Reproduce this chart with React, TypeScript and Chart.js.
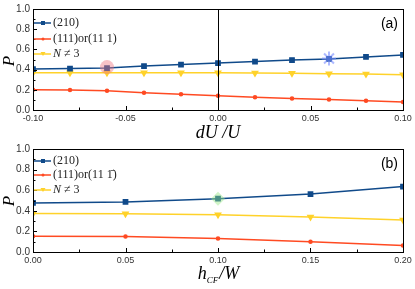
import React, { useEffect, useRef } from "react";
import { Chart, registerables } from "chart.js";
Chart.register(...registerables);

const dU = [-0.1, -0.08, -0.06, -0.04, -0.02, 0, 0.02, 0.04, 0.06, 0.08, 0.1];
const topP210 = [0.405, 0.41, 0.415, 0.435, 0.45, 0.465, 0.48, 0.495, 0.505, 0.525, 0.545];
const topP111 = [0.2, 0.198, 0.19, 0.172, 0.155, 0.14, 0.127, 0.115, 0.105, 0.092, 0.08];
const topPN = [0.368, 0.368, 0.368, 0.368, 0.368, 0.368, 0.366, 0.363, 0.358, 0.356, 0.35];

const hCF = [0, 0.05, 0.1, 0.15, 0.2];
const botP210 = [0.476, 0.486, 0.518, 0.562, 0.635];
const botP111 = [0.153, 0.15, 0.13, 0.1, 0.062];
const botPN = [0.374, 0.371, 0.362, 0.34, 0.311];

const topHighlights = [
  { x: -0.06, y: 0.425, style: "circle", color: "rgba(240,120,130,0.45)" },
  { x: 0.06, y: 0.51, style: "star", color: "rgba(120,140,255,0.6)" },
];
const botHighlights = [{ x: 0.1, y: 0.518, style: "rectRot", color: "rgba(150,230,130,0.45)" }];

const BLUE = "#104a8a";
const RED = "#ff4a22";
const YELLOW = "#ffd22a";

const zip = (xs: number[], ys: number[]) => xs.map((x, i) => ({ x, y: ys[i] }));

function seriesDatasets(xs: number[], a: number[], b: number[], c: number[], hl: any[]) {
  const ds: any[] = [
    ...hl.map((h) => ({
      data: [{ x: h.x, y: h.y }],
      showLine: false,
      pointStyle: h.style,
      pointRadius: h.style === "star" ? 7 : 7,
      pointBackgroundColor: h.color,
      pointBorderColor: h.color,
      pointBorderWidth: h.style === "star" ? 2 : 0,
    })),
    {
      label: "(210)",
      data: zip(xs, a),
      borderColor: BLUE,
      backgroundColor: BLUE,
      borderWidth: 1.5,
      pointStyle: "rect",
      pointRadius: 3,
    },
    {
      label: "(111)",
      data: zip(xs, b),
      borderColor: RED,
      backgroundColor: RED,
      borderWidth: 1.5,
      pointStyle: "circle",
      pointRadius: 1.5,
    },
    {
      label: "N",
      data: zip(xs, c),
      borderColor: YELLOW,
      backgroundColor: YELLOW,
      borderWidth: 1.5,
      pointStyle: "triangle",
      pointRotation: 180,
      pointRadius: 3,
    },
  ];
  return ds;
}

function framePlugin(opts: any) {
  return {
    id: "frame",
    afterDraw(chart: any) {
      const ctx = chart.ctx;
      const { left, right, top, bottom } = chart.chartArea;
      const xs = chart.scales.x;
      const ys = chart.scales.y;
      ctx.save();
      ctx.strokeStyle = "#000";
      ctx.lineWidth = 1;
      ctx.strokeRect(left + 0.5, top + 0.5, right - left, bottom - top);
      // inward ticks
      ctx.beginPath();
      xs.ticks.forEach((t: any) => {
        const px = Math.round(xs.getPixelForValue(t.value)) + 0.5;
        const major = Math.abs(Math.round(t.value * 1000) % 50) === 0;
        const len = major ? 4 : 2.5;
        ctx.moveTo(px, bottom);
        ctx.lineTo(px, bottom - len);
      });
      ys.ticks.forEach((t: any) => {
        const py = Math.round(ys.getPixelForValue(t.value)) + 0.5;
        const major = Math.round(t.value * 10) % 2 === 0;
        const len = major ? 4 : 2.5;
        ctx.moveTo(left, py);
        ctx.lineTo(left + len, py);
      });
      ctx.stroke();
      if (opts.zeroLine) {
        const px = Math.round(xs.getPixelForValue(0)) + 0.5;
        ctx.beginPath();
        ctx.moveTo(px, top);
        ctx.lineTo(px, bottom);
        ctx.stroke();
      }
      // panel label
      ctx.fillStyle = "#000";
      ctx.font = "14px 'Liberation Sans', Arial, sans-serif";
      ctx.textAlign = "right";
      ctx.textBaseline = "middle";
      ctx.fillText(opts.panel, right - 5, top + 15);
      // y title
      ctx.save();
      ctx.translate(10, top + 52);
      ctx.rotate(-Math.PI / 2);
      ctx.font = "italic 17px 'Liberation Serif', serif";
      ctx.textAlign = "center";
      ctx.fillText("P", 0, 0);
      ctx.restore();
      // x title
      const cx = xs.getPixelForValue(opts.titleCenter);
      const ty = opts.titleY;
      ctx.textBaseline = "alphabetic";
      ctx.textAlign = "left";
      if (opts.xtitle === "dU") {
        ctx.font = "italic 18px 'Liberation Serif', serif";
        const s = "dU /U";
        const w = ctx.measureText(s).width;
        ctx.fillText(s, cx - w / 2, ty);
      } else {
        ctx.font = "italic 18px 'Liberation Serif', serif";
        const wh = ctx.measureText("h").width;
        ctx.font = "italic 9px 'Liberation Serif', serif";
        const wc = ctx.measureText("CF").width;
        ctx.font = "italic 18px 'Liberation Serif', serif";
        const ww = ctx.measureText("/W").width;
        let x0 = cx - (wh + wc + ww) / 2;
        ctx.fillText("h", x0, ty);
        x0 += wh;
        ctx.font = "italic 9px 'Liberation Serif', serif";
        ctx.fillText("CF", x0, ty + 4);
        x0 += wc + 1;
        ctx.font = "italic 18px 'Liberation Serif', serif";
        ctx.fillText("/W", x0, ty);
      }
      // legend
      const rows = opts.legendRows;
      const colors = [BLUE, RED, YELLOW];
      const lx = left + 1;
      rows.forEach((ry: number, i: number) => {
        const y = top + ry;
        ctx.strokeStyle = colors[i];
        ctx.fillStyle = colors[i];
        ctx.lineWidth = 1.5;
        ctx.beginPath();
        ctx.moveTo(lx, y);
        ctx.lineTo(lx + 17, y);
        ctx.stroke();
        const mx = lx + 9;
        if (i === 0) ctx.fillRect(mx - 2, y - 2, 4, 4);
        else if (i === 1) {
          ctx.beginPath();
          ctx.arc(mx, y, 1.5, 0, Math.PI * 2);
          ctx.fill();
        } else {
          ctx.beginPath();
          ctx.moveTo(mx - 2.5, y - 2);
          ctx.lineTo(mx + 2.5, y - 2);
          ctx.lineTo(mx, y + 2);
          ctx.closePath();
          ctx.fill();
        }
        ctx.fillStyle = "#222";
        ctx.textBaseline = "middle";
        ctx.textAlign = "left";
        const tx = lx + 19;
        ctx.font = "12px 'Liberation Serif', serif";
        if (i === 0) ctx.fillText("(210)", tx, y);
        else if (i === 1) ctx.fillText(opts.label111, tx, y);
        else {
          ctx.font = "italic 12px 'Liberation Serif', serif";
          ctx.fillText("N", tx, y);
          const wn = ctx.measureText("N ").width;
          ctx.font = "12px 'Liberation Serif', serif";
          ctx.fillText("\u2260 3", tx + wn, y);
        }
      });
      ctx.restore();
    },
  };
}

function makeConfig(ds: any[], xmin: number, xmax: number, heightX: number, padTop: number, plugin: any): any {
  return {
    type: "line",
    data: { datasets: ds },
    options: {
      animation: false,
      responsive: false,
      maintainAspectRatio: false,
      events: [],
      layout: { padding: { top: padTop, right: 12, left: 0, bottom: 0 } },
      plugins: { legend: { display: false }, tooltip: { enabled: false } },
      scales: {
        x: {
          type: "linear",
          min: xmin,
          max: xmax,
          afterFit: (s: any) => {
            s.height = heightX;
          },
          afterBuildTicks: (s: any) => {
            const t: any[] = [];
            for (let v = xmin; v <= xmax + 1e-9; v += 0.025) t.push({ value: Math.round(v * 1000) / 1000 });
            s.ticks = t;
          },
          grid: { display: false, drawTicks: false },
          border: { display: false },
          ticks: {
            padding: 3,
            autoSkip: false,
            maxRotation: 0,
            color: "#333",
            font: { size: 9, family: "'Liberation Sans', Arial, sans-serif" },
            callback: (v: number) => (Math.abs(Math.round(v * 1000) % 50) === 0 ? v.toFixed(2) : ""),
          },
        },
        y: {
          min: 0,
          max: 1,
          afterFit: (s: any) => {
            s.width = 33;
          },
          grid: { display: false, drawTicks: false },
          border: { display: false },
          ticks: {
            stepSize: 0.1,
            padding: 3,
            autoSkip: false,
            color: "#333",
            font: { size: 10, family: "'Liberation Sans', Arial, sans-serif" },
            callback: (v: number) => (Math.round(v * 10) % 2 === 0 ? v.toFixed(1) : ""),
          },
        },
      },
    },
    plugins: [plugin],
  };
}

export default function App() {
  const topRef = useRef<HTMLCanvasElement>(null);
  const botRef = useRef<HTMLCanvasElement>(null);
  useEffect(() => {
    const c1 = new Chart(
      topRef.current!,
      makeConfig(
        seriesDatasets(dU, topP210, topP111, topPN, topHighlights),
        -0.1,
        0.1,
        30,
        5,
        framePlugin({
          zeroLine: true,
          panel: "(a)",
          xtitle: "dU",
          titleCenter: 0,
          titleY: 138,
          legendRows: [14, 30, 45],
          label111: "(111)or(11 1)",
        })
      )
    );
    const c2 = new Chart(
      botRef.current!,
      makeConfig(
        seriesDatasets(hCF, botP210, botP111, botPN, botHighlights),
        0,
        0.2,
        37,
        7,
        framePlugin({
          zeroLine: false,
          panel: "(b)",
          xtitle: "h",
          titleCenter: 0.1,
          titleY: 139,
          legendRows: [12, 26, 41],
          label111: "(111)or(11 1\u0304)",
        })
      )
    );
    return () => {
      c1.destroy();
      c2.destroy();
    };
  }, []);
  return (
    <div style={{ position: "absolute", left: 0, top: 0, width: 415, height: 289, background: "#fff" }}>
      <canvas ref={topRef} width={415} height={140} style={{ position: "absolute", left: 0, top: 0 }} />
      <canvas ref={botRef} width={415} height={149} style={{ position: "absolute", left: 0, top: 140 }} />
    </div>
  );
}
